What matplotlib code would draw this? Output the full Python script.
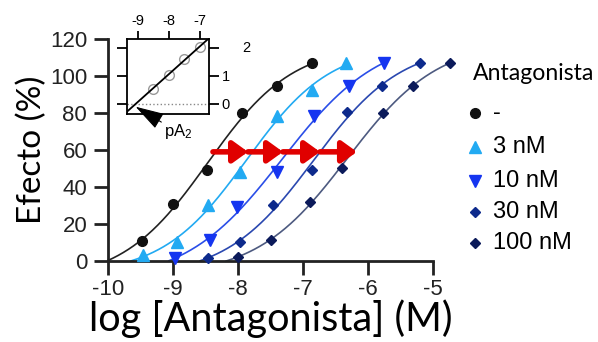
import numpy as np
import matplotlib
matplotlib.use('Agg')
import matplotlib.pyplot as plt
from matplotlib.lines import Line2D

plt.rcParams['font.family'] = 'Liberation Sans'
plt.rcParams['axes.unicode_minus'] = False
plt.rcParams['mathtext.default'] = 'regular'

# curvas concentracion-respuesta (log [M], efecto %)
labels = ['-', '3 nM', '10 nM', '30 nM', '100 nM']
colores = ['#111111', '#22aaf2', '#1535f0', '#0d2a8c', '#0b1a5a']
colores_curva = ['#222222', '#22aaf2', '#2a4ee8', '#2a48b0', '#4d5a80']
marcadores = ['o', '^', 'v', 'D', 'D']
tam_marc = [7, 8, 8, 5.5, 5.5]

x_ctrl = [-9.48, -9.0, -8.48, -7.94, -7.40, -6.86]
y_ctrl = [10.8, 30.8, 49.2, 80.0, 94.6, 107.0]
x_3 = [-9.46, -8.94, -8.46, -7.97, -7.40, -6.86, -6.34]
y_3 = [3.2, 10.3, 30.3, 48.1, 78.4, 92.4, 107.0]
x_10 = [-8.97, -8.43, -8.02, -7.40, -6.83, -6.29, -5.75]
y_10 = [1.6, 11.4, 29.2, 48.1, 78.4, 94.6, 107.0]
x_30 = [-8.46, -7.97, -7.46, -6.86, -6.32, -5.78, -5.20]
y_30 = [1.6, 10.3, 30.3, 49.2, 80.5, 94.6, 107.0]
x_100 = [-8.00, -7.50, -6.89, -6.40, -5.77, -5.31, -4.74]
y_100 = [2.2, 11.4, 31.9, 50.3, 80.0, 94.6, 107.0]

xs = [x_ctrl, x_3, x_10, x_30, x_100]
ys = [y_ctrl, y_3, y_10, y_30, y_100]

# desplazamientos (flechas rojas): log [M] al nivel de efecto indicado
desplaz_x = [-8.385, -7.846, -7.308, -6.738, -6.17]
desplaz_y = 59

# grafico de Schild (inserto)
antag_M = [3e-9, 1e-8, 3e-8, 1e-7]
log_dr1 = [0.54, 1.04, 1.60, 2.04]


def hill(x, logec50, h, bottom, top):
    return bottom + (top - bottom) / (1 + 10 ** ((logec50 - x) * h))


def ajuste(x, y):
    # rejilla en logEC50 y pendiente; fondo y techo por minimos cuadrados
    x = np.asarray(x)
    y = np.asarray(y)
    L = np.arange(-10, -4, 0.01)[:, None, None]
    H = np.arange(0.4, 2.0, 0.01)[None, :, None]
    s = 1 / (1 + 10 ** ((L - x) * H))
    a = 1 - s
    saa, sab, sbb = (a * a).sum(-1), (a * s).sum(-1), (s * s).sum(-1)
    say, sby = (a * y).sum(-1), (s * y).sum(-1)
    det = saa * sbb - sab ** 2
    B = (say * sbb - sby * sab) / det
    T = (saa * sby - sab * say) / det
    err = (((B[..., None] * a + T[..., None] * s) - y) ** 2).sum(-1)
    i, j = np.unravel_index(np.argmin(err), err.shape)
    return L.ravel()[i], H.ravel()[j], B[i, j], T[i, j]


fig = plt.figure(figsize=(5.98, 3.42), dpi=100)
ax = fig.add_axes([108 / 598, 1 - 261 / 342, 325 / 598, 222 / 342])

for i in range(5):
    p = ajuste(xs[i], ys[i])
    xx = np.linspace(-10, max(xs[i]), 400)
    yy = hill(xx, *p)
    yy[yy < 0] = np.nan
    ax.plot(xx, yy, color=colores_curva[i], lw=1.2, clip_on=False, zorder=2)
    ax.plot(xs[i], ys[i], ls='none', marker=marcadores[i], ms=tam_marc[i],
            color=colores[i], mec=colores[i], clip_on=False, zorder=3)

for a, b in zip(desplaz_x[:-1], desplaz_x[1:]):
    ax.annotate('', xy=(b, desplaz_y), xytext=(a, desplaz_y),
                arrowprops=dict(arrowstyle='-|>,head_length=0.9,head_width=0.65',
                                mutation_scale=10, color='#e00000', lw=4,
                                shrinkA=0, shrinkB=0), zorder=4)

ax.set_xlim(-10, -5)
ax.set_ylim(0, 120)
ax.set_xticks([-10, -9, -8, -7, -6, -5])
ax.set_yticks(range(0, 121, 20))
for s in ['top', 'right']:
    ax.spines[s].set_visible(False)
for s in ['left', 'bottom']:
    ax.spines[s].set_linewidth(2)
    ax.spines[s].set_color('#222222')
ax.tick_params(length=10, width=2, color='#222222', labelsize=16, colors='#222222')
ax.tick_params(axis='y', pad=5)
ax.tick_params(axis='x', pad=3)
fig.text(270.5 / 598, 1 - 331 / 342, 'log [Antagonista] (M)', family='Lato',
         fontsize=28.5, ha='center', va='baseline')
ax.set_ylabel('Efecto (%)', family='Lato', fontsize=24, labelpad=2)

# leyenda
fig.text(473 / 598, 1 - 73 / 342, 'Antagonista', family='Lato', fontsize=16.6,
         ha='left', va='center')
filas = [113, 147, 181, 212, 243]
for i in range(5):
    yf = 1 - filas[i] / 342
    fig.add_artist(Line2D([475 / 598], [yf], transform=fig.transFigure, ls='none',
                          marker=marcadores[i], ms=tam_marc[i], color=colores[i]))
    fig.text(493 / 598, yf, labels[i], fontsize=17, ha='left', va='center')

# inserto: grafico de Schild
ai = fig.add_axes([127 / 598, 1 - 114 / 342, 82 / 598, 75 / 342])
lx = np.log10(antag_M)
m, c = np.polyfit(lx, log_dr1, 1)
pa2 = -c / m
xl = (-9.34, -6.72)
ai.set_xlim(*xl)
ai.set_ylim(-0.36, 2.32)
ai.plot(xl, [m * v + c for v in xl], color='k', lw=1.3, zorder=3)
ai.plot(lx, log_dr1, ls='none', marker='o', ms=7, mfc='none', mec='#999999', mew=1)
ai.axhline(0, color='#888888', ls=':', lw=1)
ai.xaxis.tick_top()
ai.set_xticks([-9, -8, -7])
ai.set_yticks([0, 1, 2])
ai.set_yticklabels(['0', '1', ''])
ai.tick_params(axis='x', top=True, bottom=False, length=6, width=1.3, labelsize=10.5, pad=2)
ai.tick_params(axis='y', left=True, right=True, labelleft=False, labelright=True,
               length=7, width=1.3, labelsize=10.5, pad=2)
for s in ai.spines.values():
    s.set_linewidth(1.3)
ai.text(1.40, 2, '2', transform=ai.get_yaxis_transform(), fontsize=10.5, va='center', ha='left')
ai.annotate('pA$_2$', xy=(pa2, -0.1), xytext=(-7.7, -0.98),
            fontsize=12, ha='center', va='center', annotation_clip=False,
            arrowprops=dict(arrowstyle='-|>,head_length=1.5,head_width=0.45',
                            mutation_scale=12, color='k', lw=0.8, shrinkA=0, shrinkB=0,
                            relpos=(0.0, 0.9)))

fig.savefig('out.png', dpi=100)
